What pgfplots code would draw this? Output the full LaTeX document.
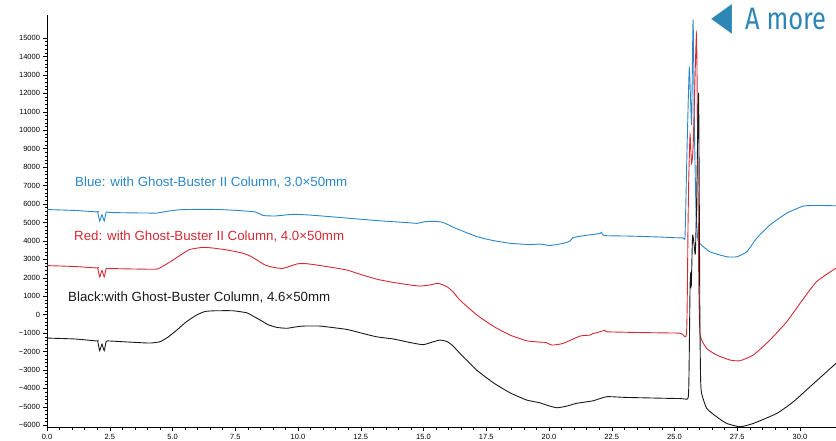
\documentclass[border=0pt]{standalone}
\usepackage{pgfplots}
\pgfplotsset{compat=1.18}
\usepackage{graphicx}
\usepackage{fontspec}
\setmainfont{Liberation Sans}
\newfontfamily\dejavu{DejaVu Sans}
\newfontfamily\fira{Fira Sans}
\definecolor{cblue}{HTML}{2A86C8}
\definecolor{cred}{HTML}{D42A34}
\definecolor{cblack}{HTML}{1A1A1A}
\definecolor{cteal}{HTML}{2E86B6}
\begin{document}
\begin{tikzpicture}[x=1pt,y=1pt]
\clip (0,0) rectangle (836,440);
\path[use as bounding box] (0,0) rectangle (836,440);
\begin{axis}[
  at={(47pt,12.5pt)}, anchor=south west,
  scale only axis, width=790.65pt, height=412.5pt,
  xmin=0, xmax=31.5, ymin=-6120, ymax=16250,
  scaled ticks=false,
  axis lines=left, axis line style={-, line width=0.8pt, black},
  xtick={0,2.5,5,7.5,10,12.5,15,17.5,20,22.5,25,27.5,30},
  xticklabels={0.0,2.5,5.0,7.5,10.0,12.5,15.0,17.5,20.0,22.5,25.0,27.5,30.0},
  minor x tick num=4,
  ytick={-6000,-5000,-4000,-3000,-2000,-1000,0,1000,2000,3000,4000,5000,6000,7000,8000,9000,10000,11000,12000,13000,14000,15000},
  yticklabels={−6000,−5000,−4000,−3000,−2000,−1000,0,1000,2000,3000,4000,5000,6000,7000,8000,9000,10000,11000,12000,13000,14000,15000},
  minor y tick num=4,
  tick align=outside, major tick length=3.5pt, minor tick length=2pt,
  tick style={line width=0.5pt, black},
  tick label style={font=\fontsize{7.5}{8}\selectfont, black},
  /pgf/number format/assume math mode=true,
  clip=false,
]
\addplot[cblue, line width=0.9pt, smooth, tension=0.3] coordinates {
(0,5700) (1.12,5650) (1.99,5570) (2.02,5570) (2.10,5080) (2.19,5420) (2.28,5080) (2.36,5560) (2.51,5540) (3.31,5520) (4.38,5510) (4.70,5590) (5.30,5690) (6.10,5710) (6.89,5700) (7.69,5640) (8.29,5570) (8.61,5380) (9.08,5350) (9.80,5440) (10.48,5400) (11.67,5270) (13.15,5100) (14.46,4980) (14.74,4950) (15.06,5040) (15.46,5060) (15.78,5000) (16.25,4700) (17.13,4230) (17.77,4020) (18.45,3870) (19.24,3800) (19.64,3830) (20.04,3750) (20.56,3860) (20.84,3990) (20.96,4180) (21.43,4290) (22.03,4400) (22.10,4470) (22.19,4290) (23.23,4260) (24.42,4210) (25.34,4160) (25.42,4300) (25.50,9000) (25.59,13380) (25.68,10300) (25.74,16000) (25.80,9500) (25.86,5500) (25.93,4100) (26.00,3870) (26.41,3410) (27.08,3140) (27.48,3140) (27.88,3410) (28.27,4140) (28.80,4860) (29.47,5500) (30.14,5890) (30.80,5920) (31.5,5900)
};
\addplot[cred, line width=0.9pt, smooth, tension=0.3] coordinates {
(0,2660) (1.12,2610) (1.99,2530) (2.02,2530) (2.10,2050) (2.19,2400) (2.28,2050) (2.36,2500) (2.51,2500) (3.71,2470) (4.38,2470) (4.70,2690) (5.02,2960) (5.42,3320) (5.70,3540) (6.22,3650) (6.69,3600) (7.29,3480) (7.81,3330) (8.09,3180) (8.37,2960) (8.69,2690) (9.00,2570) (9.40,2510) (9.96,2750) (10.28,2770) (10.60,2720) (11.27,2580) (11.95,2420) (12.47,2190) (13.15,1920) (13.78,1750) (14.46,1610) (14.86,1550) (15.26,1610) (15.58,1700) (15.94,1510) (16.18,1230) (16.45,790) (17.13,-20) (17.77,-620) (18.45,-1110) (19.12,-1420) (19.64,-1490) (19.88,-1510) (20.12,-1650) (20.56,-1560) (21.24,-1160) (21.63,-1110) (21.75,-1030) (22.03,-930) (22.23,-840) (22.31,-930) (23.63,-970) (25.22,-1000) (25.48,-980) (25.54,5000) (25.57,7500) (25.62,9740) (25.68,8200) (25.74,9000) (25.82,13000) (25.88,15170) (25.93,8000) (25.97,1500) (26.02,-1100) (26.28,-1830) (26.68,-2190) (27.21,-2460) (27.61,-2500) (28.14,-2190) (28.80,-1380) (29.47,-390) (30.00,610) (30.66,1790) (31.5,2580)
};
\addplot[cblack, line width=0.9pt, smooth, tension=0.3] coordinates {
(0,-1270) (1.12,-1320) (1.99,-1430) (2.02,-1440) (2.10,-1950) (2.19,-1600) (2.28,-1950) (2.36,-1450) (2.51,-1430) (3.31,-1490) (4.10,-1540) (4.50,-1470) (4.82,-1220) (5.17,-840) (5.54,-400) (5.96,-20) (6.29,170) (6.69,210) (7.41,210) (7.96,100) (8.21,-80) (8.49,-290) (8.80,-540) (9.15,-690) (9.55,-740) (9.88,-670) (10.21,-620) (10.88,-620) (11.94,-800) (12.47,-980) (13.13,-1200) (13.80,-1320) (14.46,-1510) (14.98,-1630) (15.34,-1490) (15.66,-1380) (15.94,-1460) (16.18,-1700) (16.45,-2100) (17.12,-3010) (17.79,-3700) (18.45,-4240) (19.11,-4630) (19.64,-4780) (19.91,-4910) (20.31,-5050) (20.71,-4960) (21.10,-4810) (21.76,-4670) (22.30,-4450) (23.10,-4490) (25.22,-4550) (25.54,-4520) (25.58,-3000) (25.62,1500) (25.65,2300) (25.67,1600) (25.72,4300) (25.78,3800) (25.83,3300) (25.88,6000) (25.96,12000) (26.01,0) (26.04,-3500) (26.08,-4270) (26.28,-5080) (26.68,-5540) (27.08,-5900) (27.61,-6080) (28.14,-5900) (29.07,-5360) (29.73,-4730) (30.40,-3910) (31.5,-2560)
};
\end{axis}
\node[anchor=west, inner sep=0, text=cblue] at (75,257) {\fontsize{13.3}{15}\selectfont Blue: with Ghost-Buster II Column, 3.0×50mm};
\node[anchor=west, inner sep=0, text=cred] at (74,203) {\fontsize{13.3}{15}\selectfont Red: with Ghost-Buster II Column, 4.0×50mm};
\node[anchor=west, inner sep=0, text=cblack] at (68,142) {\fontsize{13.3}{15}\selectfont Black:with Ghost-Buster Column, 4.6×50mm};
\node[anchor=center, inner sep=0, text=cteal] at (721.7,421) {\dejavu\fontsize{26}{26}\selectfont\scalebox{1.05}[1.5]{◀}};
\node[anchor=base west, inner sep=0, text=cteal] at (745,410) {\fira\fontsize{31}{31}\selectfont\scalebox{0.82}[1]{A more}};
\end{tikzpicture}
\end{document}
